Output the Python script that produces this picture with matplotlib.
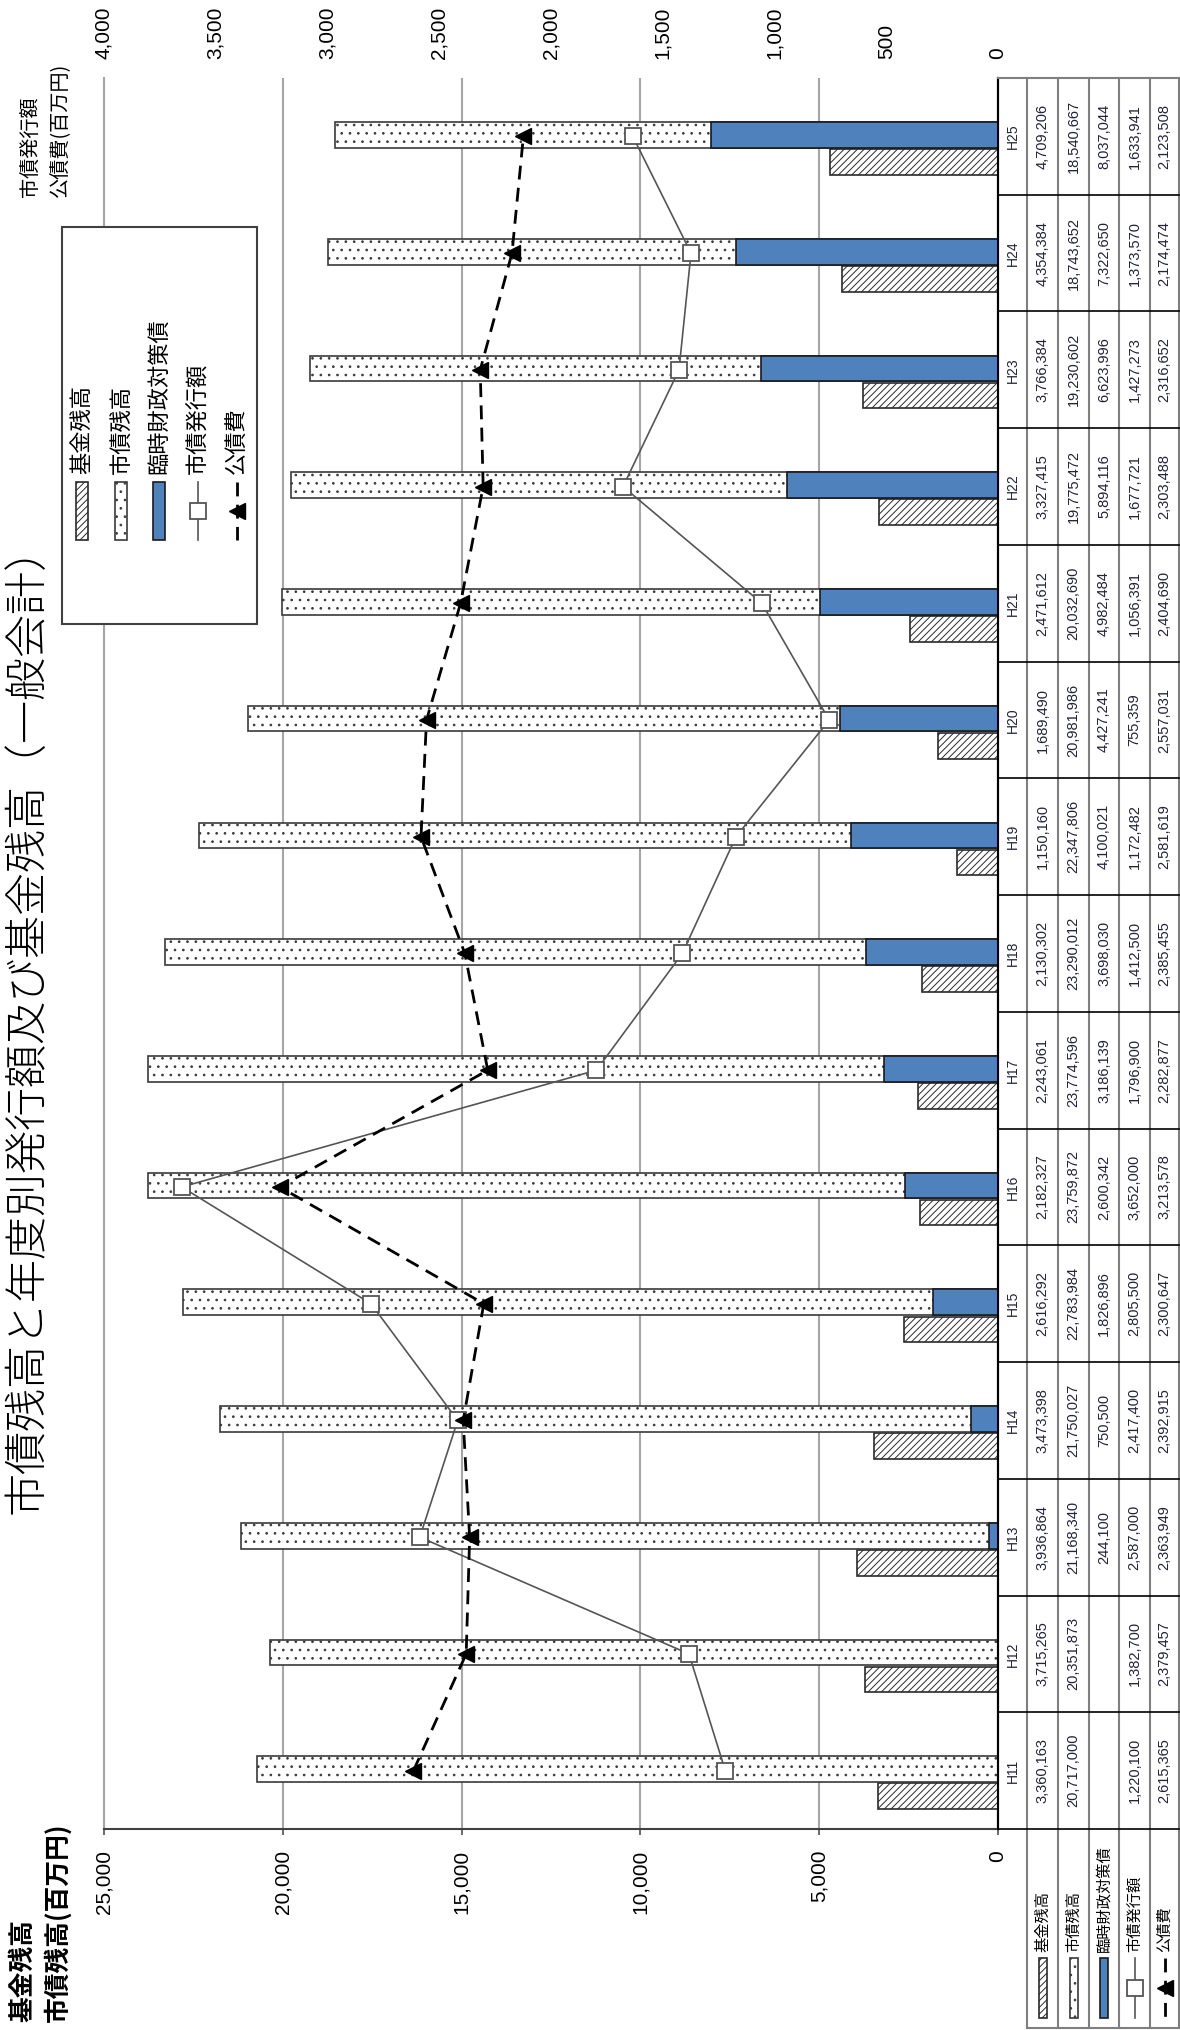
import matplotlib
matplotlib.use('Agg')
import matplotlib.pyplot as plt
from matplotlib.patches import Rectangle
from matplotlib.ticker import FuncFormatter, MultipleLocator

plt.rcParams['font.family'] = ['Noto Sans CJK JP', 'DejaVu Sans']
plt.rcParams['hatch.linewidth'] = 0.7

# =============================================================================
# data (千円)
# =============================================================================

years = ['H11', 'H12', 'H13', 'H14', 'H15', 'H16', 'H17', 'H18',
         'H19', 'H20', 'H21', 'H22', 'H23', 'H24', 'H25']
kikin = [3360163, 3715265, 3936864, 3473398, 2616292, 2182327, 2243061, 2130302,
         1150160, 1689490, 2471612, 3327415, 3766384, 4354384, 4709206]
shisai = [20717000, 20351873, 21168340, 21750027, 22783984, 23759872, 23774596, 23290012,
          22347806, 20981986, 20032690, 19775472, 19230602, 18743652, 18540667]
rinji = [None, None, 244100, 750500, 1826896, 2600342, 3186139, 3698030,
         4100021, 4427241, 4982484, 5894116, 6623996, 7322650, 8037044]
hakko = [1220100, 1382700, 2587000, 2417400, 2805500, 3652000, 1796900, 1412500,
         1172482, 755359, 1056391, 1677721, 1427273, 1373570, 1633941]
kosai = [2615365, 2379457, 2363949, 2392915, 2300647, 3213578, 2282877, 2385455,
         2581619, 2557031, 2404690, 2303488, 2316652, 2174474, 2123508]

series_names = ['基金残高', '市債残高', '臨時財政対策債', '市債発行額', '公債費']
title = '市債残高と年度別発行額及び基金残高（一般会計）'
left_title = ['基金残高', '市債残高(百万円)']
right_title = ['市債発行額', '公債費(百万円)']

# =============================================================================
# layout (pixels of the 1180x2030 picture, chart is turned 90 degrees)
# =============================================================================

W, H = 1180, 2030
px_left, px_right = 104, 998     # 25,000 ... 0
px_top, px_bottom = 78, 1829
tbl_cols = [998, 1027, 1058, 1089, 1119, 1150, 1179]
hdr_bottom = 2028
blue = '#4F81BD'
num_font = ['Liberation Sans', 'DejaVu Sans']
txt_col = '#22223a'
dot_hatch = '..'
line_hatch = '/////'

fig = plt.figure(figsize=(W / 100, H / 100), dpi=100)
ax = fig.add_axes([px_left / W, 1 - px_bottom / H,
                   (px_right - px_left) / W, (px_bottom - px_top) / H])

n = len(years)
idx = list(range(n))
to_m = lambda v: 0 if v is None else v / 1000.0   # 千円 -> 百万円

# bars
ax.barh([i - 0.22 for i in idx], [to_m(v) for v in kikin], height=0.22,
        color='white', edgecolor='#2a2a2a', hatch=line_hatch, lw=1.2, zorder=2)
ax.barh([i + 0.012 for i in idx], [to_m(v) for v in shisai], height=0.22,
        color='white', edgecolor='#3a3a3a', hatch=dot_hatch, lw=1.2, zorder=2)
ax.barh([i + 0.012 for i in idx], [to_m(v) for v in rinji], height=0.22,
        color=blue, edgecolor='#1a1a1a', lw=1.2, zorder=3)

ax.set_xlim(25000, 0)
ax.set_ylim(-0.5, n - 0.5)
ax.xaxis.set_major_locator(MultipleLocator(5000))
ax.xaxis.set_major_formatter(FuncFormatter(lambda v, p: '{:,}'.format(int(v))))
ax.grid(axis='x', color='#a6a6a6', lw=1.5, zorder=0)
ax.set_axisbelow(True)
ax.tick_params(axis='y', left=False, labelleft=False)
ax.tick_params(axis='x', direction='out', length=4, width=1.2, color='#505050',
               pad=11, labelrotation=90, labelsize=15)
for lab in ax.get_xticklabels():
    lab.set_family(num_font)
ax.spines['top'].set_visible(False)
ax.spines['left'].set_color('#a6a6a6')
ax.spines['left'].set_linewidth(1.5)
ax.spines['bottom'].set_color('#404040')
ax.spines['bottom'].set_linewidth(1.5)
ax.spines['right'].set_color('black')
ax.spines['right'].set_linewidth(1.5)

# lines on the second axis
ax2 = ax.twiny()
ax2.plot([to_m(v) for v in hakko], idx, color='#555555', lw=1.2, marker='s',
         ms=11, mfc='white', mec='#555555', mew=1.3, zorder=4)
ax2.plot([to_m(v) for v in kosai], idx, color='black', lw=2, ls=(0, (5, 3)),
         marker='<', ms=11, mfc='black', mec='black', zorder=5)
ax2.set_xlim(4000, 0)
ax2.set_ylim(-0.5, n - 0.5)
ax2.xaxis.set_major_locator(MultipleLocator(500))
ax2.xaxis.set_major_formatter(FuncFormatter(lambda v, p: '{:,}'.format(int(v))))
ax2.tick_params(axis='x', length=0, pad=14, labelrotation=90, labelsize=15)
for lab in ax2.get_xticklabels():
    lab.set_family(num_font)
for s in ax2.spines.values():
    s.set_visible(False)

# =============================================================================
# overlay: title, axis titles, legend, data table
# =============================================================================

ov = fig.add_axes([0, 0, 1, 1], zorder=10)
ov.set_xlim(0, W)
ov.set_ylim(H, 0)
ov.patch.set_alpha(0)
ov.axis('off')

ov.text(27, 1020, title, rotation=90, ha='center', va='center', fontsize=31,
        fontweight='light')
ov.text(23, 2022, left_title[0], rotation=90, ha='center', va='bottom',
        fontsize=18.5, fontweight='bold')
ov.text(58, 2022, left_title[1], rotation=90, ha='center', va='bottom',
        fontsize=18.5, fontweight='bold')
ov.text(31, 197, right_title[0], rotation=90, ha='center', va='bottom', fontsize=14.5)
ov.text(61, 197, right_title[1], rotation=90, ha='center', va='bottom', fontsize=14.5)


def draw_key(kind, xc, y0, y1, w):
    ym = (y0 + y1) / 2
    if kind == 0:
        ov.add_patch(Rectangle((xc - w / 2, y0), w, y1 - y0, fc='white',
                               ec='#2a2a2a', hatch=line_hatch, lw=1.2))
    elif kind == 1:
        ov.add_patch(Rectangle((xc - w / 2, y0), w, y1 - y0, fc='white',
                               ec='#3a3a3a', hatch=dot_hatch, lw=1.2))
    elif kind == 2:
        ov.add_patch(Rectangle((xc - w / 2, y0), w, y1 - y0, fc=blue,
                               ec='#1a1a1a', lw=1.2))
    elif kind == 3:
        ov.plot([xc, xc], [y0, y1], color='#555555', lw=1.2)
        ov.plot([xc], [ym], marker='s', ms=11, mfc='white', mec='#555555', mew=1.3)
    else:
        ov.plot([xc, xc], [y0, y1], color='black', lw=2, ls=(0, (5, 3)))
        ov.plot([xc], [ym], marker='<', ms=11, color='black')


# legend box
ov.add_patch(Rectangle((62, 227), 195, 397, fc='white', ec='#404040', lw=1.5))
leg_x = [82, 121, 159, 198, 237]
for k, name in enumerate(series_names):
    draw_key(k, leg_x[k], 482, 540, 12)
    ov.text(leg_x[k], 474, name, rotation=90, ha='center', va='bottom', fontsize=16)

# table grid
slot = (px_bottom - px_top) / n
ov.plot([tbl_cols[0], tbl_cols[0]], [px_top, px_bottom], color='black', lw=1.5)
for xc in tbl_cols[1:]:
    ov.plot([xc, xc], [px_top, hdr_bottom], color='#7f7f7f', lw=1.5)
ov.plot([tbl_cols[0], tbl_cols[-1]], [px_top, px_top], color='#7f7f7f', lw=1.5)
for k in range(1, n + 1):
    yb = px_top + k * slot
    ov.plot([tbl_cols[0], tbl_cols[-1]], [yb, yb], color='black', lw=1.2)
ov.plot([tbl_cols[1], tbl_cols[-1]], [hdr_bottom, hdr_bottom], color='#7f7f7f', lw=1.5)

# table text
rows = [kikin, shisai, rinji, hakko, kosai]
for i in idx:
    yc = px_bottom - (i + 0.5) * slot
    xc = (tbl_cols[0] + tbl_cols[1]) / 2
    ov.text(xc, yc, years[i], rotation=90, ha='center', va='center',
            fontsize=10, family=num_font, color=txt_col)
    for r, vals in enumerate(rows):
        v = vals[i]
        if v is None:
            continue
        xc = (tbl_cols[r + 1] + tbl_cols[r + 2]) / 2
        ov.text(xc, yc, '{:,}'.format(v), rotation=90, ha='center', va='center',
                fontsize=10.5, family=num_font, color=txt_col)

# table header (legend keys + names)
for r, name in enumerate(series_names):
    xc = (tbl_cols[r + 1] + tbl_cols[r + 2]) / 2
    draw_key(r, xc, 1958, 2018, 8)
    ov.text(xc, 1952, name, rotation=90, ha='center', va='bottom', fontsize=11)

fig.savefig('out.png', dpi=100)
